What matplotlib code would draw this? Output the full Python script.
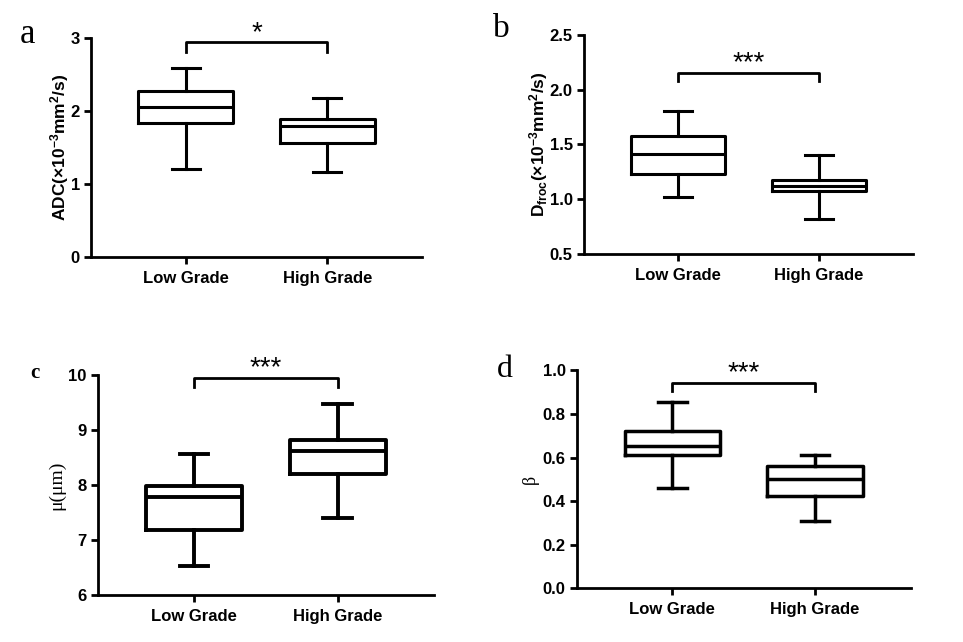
import matplotlib
matplotlib.use('Agg')
import matplotlib.pyplot as plt

plt.rcParams['font.family'] = 'Liberation Sans'
plt.rcParams['font.weight'] = 'bold'
plt.rcParams['mathtext.fontset'] = 'custom'
plt.rcParams['mathtext.rm'] = 'Liberation Sans:bold'
plt.rcParams['mathtext.default'] = 'rm'

groups = ['Low Grade', 'High Grade']

# box stats: whislo, q1, med, q3, whishi
adc_low = [1.21, 1.84, 2.05, 2.28, 2.59]
adc_high = [1.16, 1.56, 1.79, 1.89, 2.18]
dfroc_low = [1.02, 1.23, 1.415, 1.58, 1.81]
dfroc_high = [0.82, 1.075, 1.125, 1.175, 1.405]
mu_low = [6.53, 7.18, 7.78, 7.99, 8.56]
mu_high = [7.40, 8.20, 8.62, 8.82, 9.48]
beta_low = [0.462, 0.613, 0.653, 0.722, 0.855]
beta_high = [0.309, 0.422, 0.50, 0.56, 0.61]

# significance brackets: bar height, leg bottom, label
sig_a = [2.94, 2.81, '*']
sig_b = [2.155, 2.08, '***']
sig_c = [9.94, 9.79, '***']
sig_d = [0.942, 0.904, '***']

yticks_a = [0, 1, 2, 3]
yticks_b = [0.5, 1.0, 1.5, 2.0, 2.5]
yticks_c = [6, 7, 8, 9, 10]
yticks_d = [0.0, 0.2, 0.4, 0.6, 0.8, 1.0]


def stats(v):
    return dict(whislo=v[0], q1=v[1], med=v[2], q3=v[3], whishi=v[4], fliers=[])


def panel(rect, low, high, sig, yticks, fmt, ylabel, lw, lab_kw):
    ax = fig.add_axes(rect)
    ls = dict(color='black', linewidth=lw)
    ax.bxp([stats(low), stats(high)], positions=[1, 2], widths=0.67,
           showfliers=False, capwidths=0.2,
           boxprops=ls, whiskerprops=ls, capprops=ls, medianprops=ls)
    ax.set_xlim(0.33, 2.67)
    ax.set_ylim(yticks[0], yticks[-1])
    ax.set_yticks(yticks)
    ax.set_yticklabels([fmt.format(t) for t in yticks])
    ax.set_xticks([1, 2])
    ax.set_xticklabels(groups)
    for s in ['top', 'right']:
        ax.spines[s].set_visible(False)
    for s in ['left', 'bottom']:
        ax.spines[s].set_linewidth(2)
        ax.spines[s].set_clip_on(False)
    ax.tick_params(width=2, length=5, labelsize=12)
    ax.tick_params(axis='x', pad=5)
    ax.tick_params(axis='y', pad=3)
    top, leg, star = sig
    ax.plot([1, 1, 2, 2], [leg, top, top, leg], color='black', lw=2, clip_on=False)
    ax.text(1.5, top + (yticks[-1] - yticks[0]) * 0.012, star, ha='center', va='baseline',
            fontsize=20, fontweight='normal')
    ax.set_ylabel(ylabel, **lab_kw)
    return ax


fig = plt.figure(figsize=(9.63, 6.42), dpi=100)

panel([0.0945, 0.5997, 0.3437, 0.3411], adc_low, adc_high, sig_a, yticks_a, '{:g}',
      r'ADC(×10$^{-3}$mm$^{2}$/s)', 2.2, dict(fontsize=12.5, fontweight='bold', labelpad=0))
panel([0.6064, 0.6044, 0.3416, 0.3411], dfroc_low, dfroc_high, sig_b, yticks_b, '{:.1f}',
      r'D$_{\mathrm{froc}}$(×10$^{-3}$mm$^{2}$/s)', 2.2, dict(fontsize=12.5, fontweight='bold', labelpad=0))
panel([0.1015, 0.0732, 0.3492, 0.3427], mu_low, mu_high, sig_c, yticks_c, '{:g}',
      'μ(μm)', 2.8, dict(fontsize=14, fontweight='normal', family='Liberation Serif', labelpad=2))
panel([0.5989, 0.0836, 0.3468, 0.3396], beta_low, beta_high, sig_d, yticks_d, '{:.1f}',
      'β', 2.5, dict(fontsize=13, fontweight='normal', family='Liberation Serif', labelpad=3))

letter_kw = dict(family='Liberation Serif', fontweight='normal', va='baseline', ha='left')
fig.text(0.0208, 0.933, 'a', fontsize=25, **letter_kw)
fig.text(0.512, 0.9424, 'b', fontsize=24, **letter_kw)
fig.text(0.031, 0.4112, 'c', fontsize=15, **dict(letter_kw, fontweight='bold'))
fig.text(0.516, 0.4128, 'd', fontsize=23, **letter_kw)

fig.savefig('out.png', dpi=100)
